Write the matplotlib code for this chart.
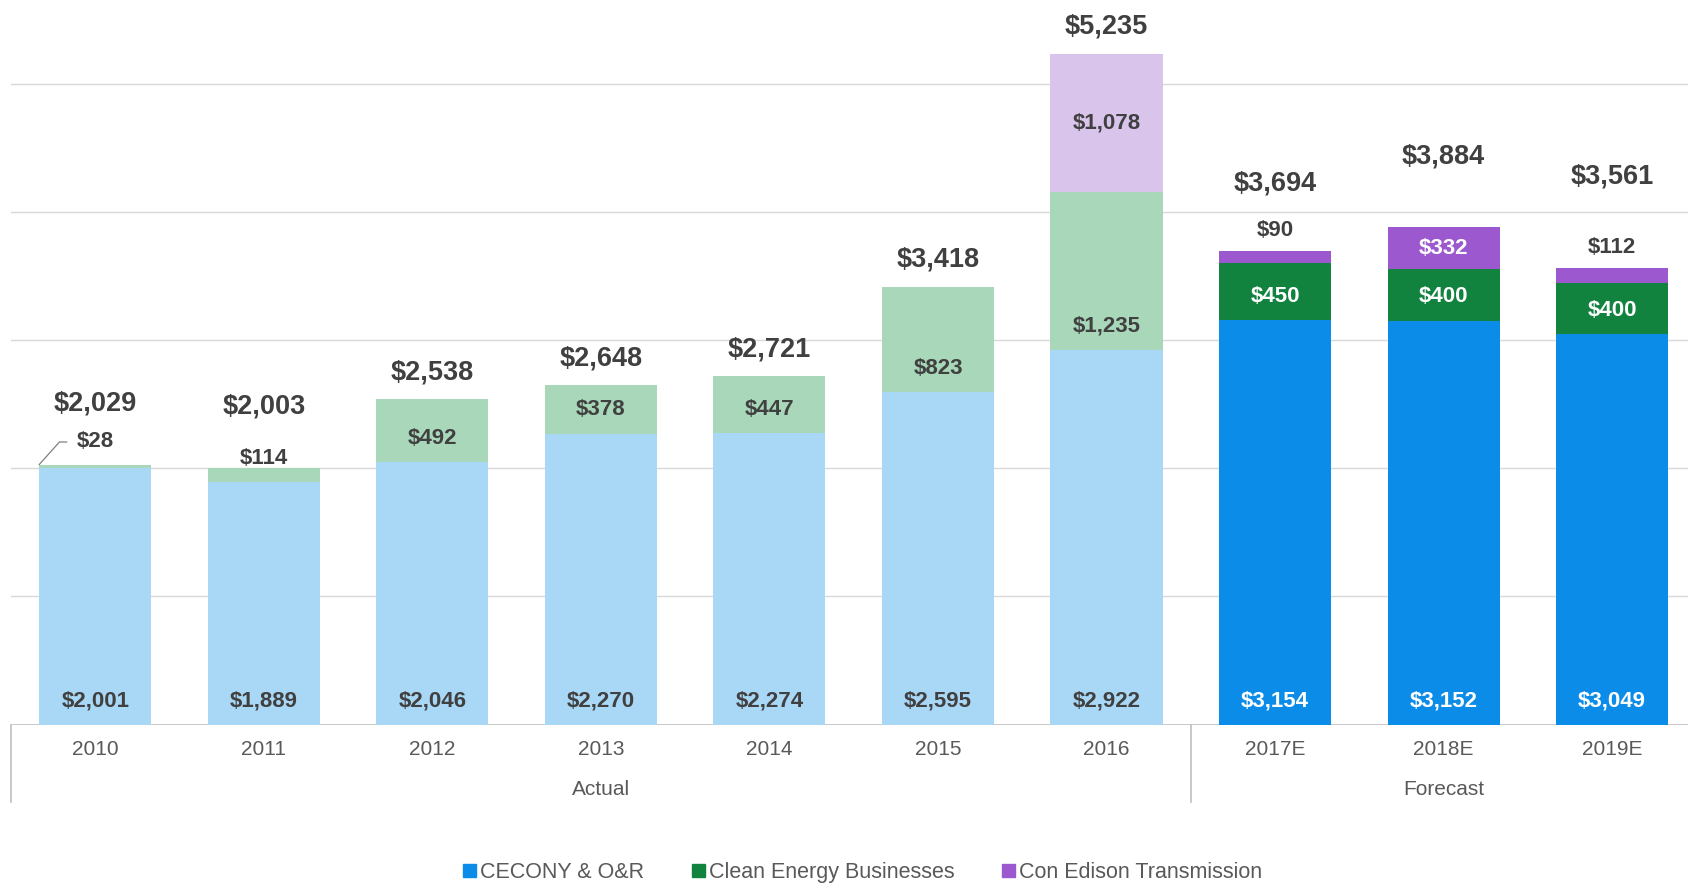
import matplotlib
matplotlib.use("Agg")
from matplotlib import pyplot as plt
from matplotlib.lines import Line2D
from matplotlib.patches import Patch

plt.rcParams['font.family'] = ['Liberation Sans', 'DejaVu Sans']

years = ["2010", "2011", "2012", "2013", "2014", "2015", "2016", "2017E", "2018E", "2019E"]
cecony = [2001, 1889, 2046, 2270, 2274, 2595, 2922, 3154, 3152, 3049]
clean_energy = [28, 114, 492, 378, 447, 823, 1235, 450, 400, 400]
transmission = [0, 0, 0, 0, 0, 0, 1078, 90, 332, 112]
totals = [2029, 2003, 2538, 2648, 2721, 3418, 5235, 3694, 3884, 3561]
groups = ["Actual", "Forecast"]
n_actual = 7

light = ["#A9D8F7", "#A8D8B9", "#D9C4EC"]
dark = ["#0A8CE8", "#11833F", "#9C58CF"]
text_dark = "#404040"
seg_size = 16

fig = plt.figure(figsize=(16.88, 8.86), dpi=100)
ax = fig.add_axes([11 / 1688, (886 - 724.5) / 886, 1 - 11 / 1688, 717.5 / 886])

x = list(range(len(years)))
width = 0.665
for i in x:
    cols = light if i < n_actual else dark
    b1 = cecony[i]
    b2 = b1 + clean_energy[i]
    ax.bar(i, cecony[i], width, color=cols[0], zorder=2)
    ax.bar(i, clean_energy[i], width, bottom=b1, color=cols[1], zorder=2)
    if transmission[i]:
        ax.bar(i, transmission[i], width, bottom=b2, color=cols[2], zorder=2)

    seg_col = text_dark if i < n_actual else "white"
    ax.text(i, 185, f"${cecony[i]:,}", ha="center", va="center",
            fontsize=seg_size, fontweight="bold", color=seg_col, zorder=3)
    # clean energy label sits at the base of its segment
    if i == 0:
        ax.text(i, 2205, f"${clean_energy[i]:,}", ha="center", va="center",
                fontsize=seg_size, fontweight="bold", color=text_dark, zorder=3)
        ax.plot([i - width / 2, i - width / 2 + 0.12, i - 0.17],
                [totals[i], 2205, 2205], color="#7F7F7F", lw=0.9, zorder=3)
    else:
        ax.text(i, b1 + 185, f"${clean_energy[i]:,}", ha="center", va="center",
                fontsize=seg_size, fontweight="bold", color=seg_col, zorder=3)
    if transmission[i]:
        if transmission[i] > 200:
            ax.text(i, b2 + transmission[i] / 2, f"${transmission[i]:,}", ha="center",
                    va="center", fontsize=seg_size, fontweight="bold", color=seg_col, zorder=3)
        else:
            ax.text(i, totals[i] + 160, f"${transmission[i]:,}", ha="center", va="center",
                    fontsize=seg_size, fontweight="bold", color=text_dark, zorder=3)

# totals (offsets hand-placed like the original)
total_offsets = [475, 476, 210, 209, 203, 213, 211, 525, 546, 717]
for i, t in enumerate(totals):
    ax.text(i, t + total_offsets[i], f"${t:,}", ha="center", va="center",
            fontsize=19.5, fontweight="bold", color=text_dark, zorder=3)

ax.set_xlim(-0.5, 9.45)
ax.set_ylim(0, 5600)
ax.set_yticks([1000, 2000, 3000, 4000, 5000])
ax.yaxis.grid(True, color="#D9D9D9", lw=1, zorder=0)
ax.axhline(0, color="#BFBFBF", lw=1.2, zorder=1)
ax.tick_params(axis="y", left=False, labelleft=False)
ax.set_xticks(x)
ax.set_xticklabels([])
ax.tick_params(axis="x", bottom=False)
for s in ax.spines.values():
    s.set_visible(False)

xt = ax.get_xaxis_transform()
for i, y in enumerate(years):
    ax.text(i, -0.0355, y, transform=xt, ha="center", va="center",
            fontsize=15, color="#595959")
ax.text((n_actual - 1) / 2, -0.0899, groups[0], transform=xt, ha="center",
        va="center", fontsize=15, color="#595959")
ax.text((n_actual + len(years) - 1) / 2, -0.0899, groups[1], transform=xt,
        ha="center", va="center", fontsize=15, color="#595959")
for xs in [-0.5, n_actual - 0.5]:
    ax.add_line(Line2D([xs, xs], [0, -0.108], transform=xt, color="#BFBFBF",
                       lw=1.2, clip_on=False))

handles = [Patch(color=c) for c in dark]
fig.legend(handles, ["CECONY & O&R", "Clean Energy Businesses", "Con Edison Transmission"],
           loc="center", bbox_to_anchor=(0.511, 0.015), ncol=3, frameon=False,
           fontsize=15.5, handlelength=0.6, handleheight=0.6, handletextpad=0.2,
           columnspacing=2.2, labelcolor="#595959")

fig.savefig("out.png", dpi=100)
